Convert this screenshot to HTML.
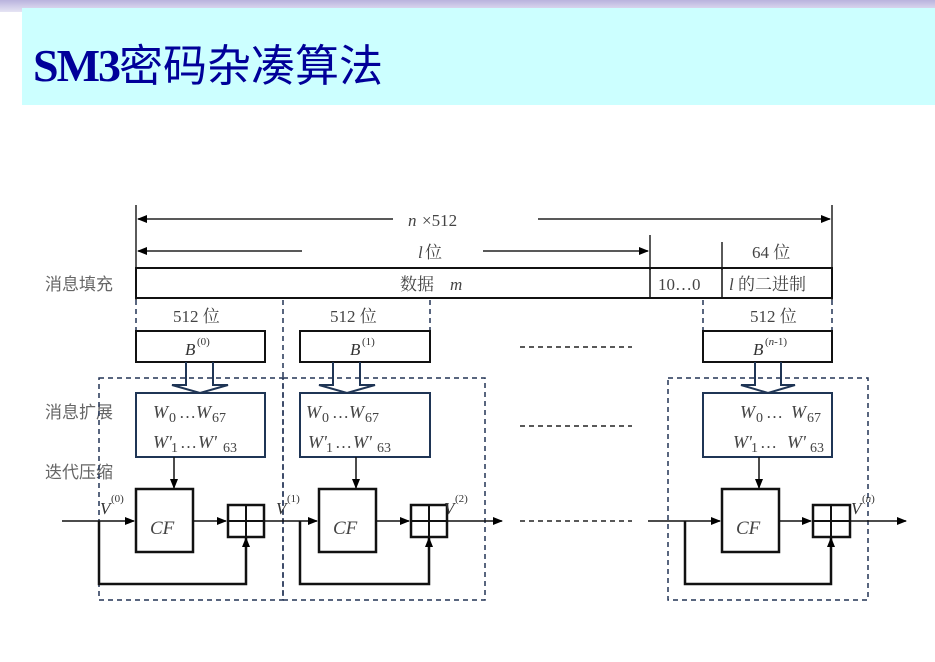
<!DOCTYPE html>
<html><head><meta charset="utf-8"><style>
body{margin:0;width:935px;height:662px;background:#fff;overflow:hidden;position:relative}
#top{position:absolute;left:0;top:0;width:935px;height:12px;background:linear-gradient(#b9b3dd,#e6e4f4)}
#tb{position:absolute;left:22px;top:8px;width:913px;height:97px;background:#ccffff}
#tt{position:absolute;left:33px;top:30px;font:bold 46px "Liberation Serif","Noto Serif CJK SC",serif;color:#000099;letter-spacing:-2px;white-space:nowrap}
#tt span{font-family:"Noto Sans CJK SC",sans-serif;font-weight:normal;font-size:44px;letter-spacing:0}
svg{position:absolute;left:0;top:0}
</style></head><body>
<div id="top"></div><div id="tb"></div>
<div id="tt">SM3<span>密码杂凑算法</span></div>
<svg width="935" height="662" viewBox="0 0 935 662">
<defs>
<marker id="a" markerWidth="10" markerHeight="8" refX="9" refY="4" orient="auto" markerUnits="userSpaceOnUse"><path d="M0,0L10,4L0,8z" fill="#000"/></marker>
</defs>
<g font-family="Liberation Serif,Noto Serif CJK SC,serif" font-size="17" fill="#444">
<g stroke="#222" stroke-width="1.5">
<line x1="136" y1="205" x2="136" y2="300"/><line x1="832" y1="205" x2="832" y2="300"/>
<line x1="650" y1="235" x2="650" y2="270"/><line x1="722" y1="242" x2="722" y2="270"/>
<line x1="393" y1="219" x2="138" y2="219" marker-end="url(#a)"/>
<line x1="538" y1="219" x2="830" y2="219" marker-end="url(#a)"/>
<line x1="302" y1="251" x2="138" y2="251" marker-end="url(#a)"/>
<line x1="483" y1="251" x2="648" y2="251" marker-end="url(#a)"/>
</g>
<text x="408" y="226" font-style="italic">n</text><text x="422" y="226">×512</text>
<text x="418" y="258" font-style="italic">l</text><text x="425" y="258">位</text>
<text x="752" y="258">64 位</text>
<rect x="136" y="268" width="696" height="30" fill="none" stroke="#111" stroke-width="2"/>
<line x1="650" y1="268" x2="650" y2="298" stroke="#111" stroke-width="1.5"/>
<line x1="722" y1="268" x2="722" y2="298" stroke="#111" stroke-width="1.5"/>
<text x="400" y="290">数据</text><text x="450" y="290" font-style="italic">m</text>
<text x="658" y="290">10…0</text>
<text x="729" y="290" font-style="italic">l</text><text x="738" y="290">的二进制</text>
<g font-size="17" fill="#666" font-family="Noto Sans CJK SC,sans-serif">
<text x="45" y="290">消息填充</text><text x="45" y="418">消息扩展</text><text x="45" y="478">迭代压缩</text>
</g>
<g stroke="#223355" stroke-width="1.5" stroke-dasharray="5,4" fill="none">
<line x1="136" y1="300" x2="136" y2="330"/><line x1="283" y1="300" x2="283" y2="378"/>
<line x1="430" y1="300" x2="430" y2="330"/><line x1="703" y1="300" x2="703" y2="330"/>
<line x1="832" y1="300" x2="832" y2="330"/>
<rect x="99" y="378" width="184" height="222"/><rect x="283" y="378" width="202" height="222"/>
<rect x="668" y="378" width="200" height="222"/>
</g>
<g stroke="#222" stroke-width="1.5" stroke-dasharray="5,4">
<line x1="520" y1="347" x2="632" y2="347"/><line x1="520" y1="426" x2="632" y2="426"/><line x1="520" y1="521" x2="632" y2="521"/>
</g>
<text x="173" y="322">512 位</text><text x="330" y="322">512 位</text><text x="750" y="322">512 位</text>
<g fill="none" stroke="#111" stroke-width="2">
<rect x="136" y="331" width="129" height="31"/><rect x="300" y="331" width="130" height="31"/><rect x="703" y="331" width="129" height="31"/>
</g>
<g font-style="italic" fill="#333"><text x="185" y="355">B</text><text x="350" y="355">B</text><text x="753" y="355">B</text></g>
<g font-size="11" fill="#333"><text x="197" y="345">(0)</text><text x="362" y="345">(1)</text><text x="765" y="345">(<tspan font-style="italic">n</tspan>-1)</text></g>
<g stroke="#1f3555" stroke-width="2" fill="none">
<path d="M186,362V385H172L200,393L228,385H213V362"/>
<path d="M333,362V385H319L347,393L375,385H360V362"/>
<path d="M755,362V385H741L768,393L795,385H781V362"/>
</g>
<g fill="none" stroke="#1f3555" stroke-width="2">
<rect x="136" y="393" width="129" height="64"/><rect x="300" y="393" width="130" height="64"/><rect x="703" y="393" width="129" height="64"/>
</g>
<g font-style="italic" fill="#444" font-size="18">
<text x="153" y="418">W</text><text x="153" y="448">W'</text>
<text x="306" y="418">W</text><text x="308" y="448">W'</text>
<text x="740" y="418">W</text><text x="733" y="448">W'</text>
</g>
<g fill="#444" font-size="14">
<text x="169" y="422">0</text><text x="179" y="418" font-size="17">…</text><text x="196" y="418" font-size="18" font-style="italic">W</text><text x="212" y="422">67</text>
<text x="171" y="452">1</text><text x="180" y="448" font-size="17">…</text><text x="198" y="448" font-size="18" font-style="italic">W'</text><text x="223" y="452">63</text>
<text x="322" y="422">0</text><text x="332" y="418" font-size="17">…</text><text x="349" y="418" font-size="18" font-style="italic">W</text><text x="365" y="422">67</text>
<text x="326" y="452">1</text><text x="335" y="448" font-size="17">…</text><text x="353" y="448" font-size="18" font-style="italic">W'</text><text x="377" y="452">63</text>
<text x="756" y="422">0</text><text x="766" y="418" font-size="17">…</text><text x="791" y="418" font-size="18" font-style="italic">W</text><text x="807" y="422">67</text>
<text x="751" y="452">1</text><text x="760" y="448" font-size="17">…</text><text x="787" y="448" font-size="18" font-style="italic">W'</text><text x="810" y="452">63</text>
</g>
<g stroke="#111" stroke-width="1.5">
<line x1="174" y1="457" x2="174" y2="488" marker-end="url(#a)"/>
<line x1="356" y1="457" x2="356" y2="488" marker-end="url(#a)"/>
<line x1="759" y1="457" x2="759" y2="488" marker-end="url(#a)"/>
</g>
<g fill="#fff" stroke="#111" stroke-width="2.5">
<rect x="136" y="489" width="57" height="63"/><rect x="319" y="489" width="57" height="63"/><rect x="722" y="489" width="57" height="63"/>
</g>
<g font-style="italic" fill="#444" font-size="19"><text x="150" y="534">CF</text><text x="333" y="534">CF</text><text x="736" y="534">CF</text></g>
<g stroke="#111" stroke-width="1.5" fill="none">
<line x1="62" y1="521" x2="134" y2="521" marker-end="url(#a)"/>
<line x1="193" y1="521" x2="226" y2="521" marker-end="url(#a)"/>
<line x1="264" y1="521" x2="317" y2="521" marker-end="url(#a)"/>
<line x1="376" y1="521" x2="409" y2="521" marker-end="url(#a)"/>
<line x1="447" y1="521" x2="502" y2="521" marker-end="url(#a)"/>
<line x1="648" y1="521" x2="720" y2="521" marker-end="url(#a)"/>
<line x1="779" y1="521" x2="811" y2="521" marker-end="url(#a)"/>
<line x1="850" y1="521" x2="906" y2="521" marker-end="url(#a)"/>
<path d="M99,521V584H246V538" stroke-width="2.5" marker-end="url(#a)"/>
<path d="M300,521V584H429V538" stroke-width="2.5" marker-end="url(#a)"/>
<path d="M685,521V584H831V538" stroke-width="2.5" marker-end="url(#a)"/>
</g>
<g fill="#fff" stroke="#111" stroke-width="2.5">
<rect x="228" y="505" width="36" height="32"/><rect x="411" y="505" width="36" height="32"/><rect x="813" y="505" width="37" height="32"/>
</g>
<g stroke="#111" stroke-width="2">
<line x1="246" y1="505" x2="246" y2="537"/><line x1="228" y1="521" x2="264" y2="521"/>
<line x1="429" y1="505" x2="429" y2="537"/><line x1="411" y1="521" x2="447" y2="521"/>
<line x1="831" y1="505" x2="831" y2="537"/><line x1="813" y1="521" x2="850" y2="521"/>
</g>
<g font-style="italic" fill="#333" font-size="17">
<text x="100" y="514">V</text><text x="276" y="514">V</text><text x="444" y="514">V</text><text x="851" y="514">V</text>
</g>
<g fill="#333" font-size="11">
<text x="111" y="502">(0)</text><text x="287" y="502">(1)</text><text x="455" y="502">(2)</text><text x="862" y="502">(<tspan font-style="italic">n</tspan>)</text>
</g>
</g>
</svg>
</body></html>
